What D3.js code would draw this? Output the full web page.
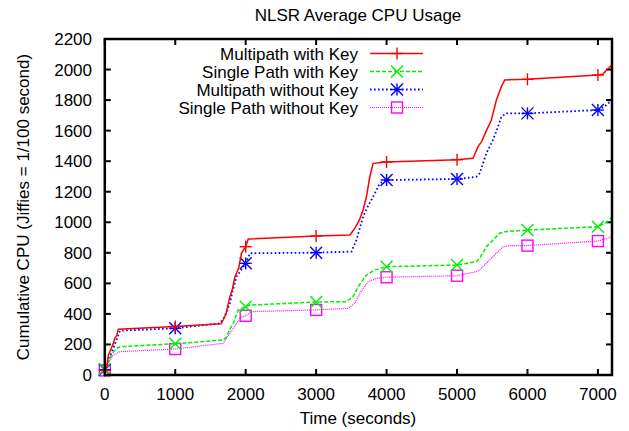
<!DOCTYPE html>
<html>
<head>
<meta charset="utf-8">
<script src="https://cdn.jsdelivr.net/npm/d3@7"></script>
<style>
  body { margin: 0; background: #fff; }
  text { font-family: "Liberation Sans", Arial, sans-serif; }
</style>
</head>
<body>
<div id="chart"></div>
<script>
// data
var yTicks = [0, 200, 400, 600, 800, 1000, 1200, 1400, 1600, 1800, 2000, 2200]
var xTicks = [0, 1000, 2000, 3000, 4000, 5000, 6000, 7000]

var mkTime = [0, 30, 50, 80, 121, 145, 170, 192, 1000, 1650, 1680, 1720, 1775, 1810, 1846, 1900, 1941, 2000, 2036, 3000, 3480, 3550, 3610, 3667, 3714, 3762, 3809, 4000, 5000, 5227, 5298, 5350, 5417, 5488, 5559, 5630, 5677, 6000, 7000, 7071, 7130, 7200]
var mkCpu  = [30, 60, 130, 160, 207, 242, 260, 300, 318, 335, 360, 400, 511, 560, 641, 700, 798, 840, 890, 910, 917, 962, 1010, 1080, 1167, 1298, 1386, 1395, 1410, 1419, 1495, 1530, 1600, 1670, 1801, 1888, 1932, 1936, 1964, 1970, 2000, 2030]

var spkTime = [0, 30, 70, 120, 168, 216, 1000, 1681, 1729, 1776, 1823, 1894, 2000, 2060, 3000, 3431, 3525, 3596, 3714, 3832, 4000, 5000, 5275, 5330, 5417, 5511, 5606, 5677, 6000, 7000, 7142, 7200]
var spkCpu  = [40, 70, 110, 150, 175, 185, 205, 229, 251, 300, 339, 426, 447, 458, 478, 480, 513, 578, 655, 688, 709, 720, 742, 770, 840, 884, 928, 938, 949, 971, 1004, 1037]

var mnkTime = [0, 30, 60, 100, 150, 216, 1000, 1634, 1700, 1776, 1820, 1870, 2000, 2060, 3000, 3502, 3572, 3667, 3740, 3809, 3904, 4000, 5000, 5275, 5322, 5417, 5511, 5582, 5630, 5700, 6000, 7000, 7100, 7200]
var mnkCpu  = [35, 60, 110, 150, 210, 290, 306, 338, 380, 470, 560, 644, 731, 797, 801, 808, 884, 1037, 1110, 1167, 1255, 1277, 1283, 1298, 1321, 1452, 1539, 1626, 1691, 1713, 1713, 1735, 1760, 1800]

var snkTime = [0, 30, 70, 120, 216, 1000, 1681, 1776, 1870, 1941, 2000, 2083, 3000, 3454, 3549, 3620, 3738, 3856, 4000, 5000, 5275, 5322, 5464, 5559, 5653, 5748, 6000, 7000, 7200]
var snkCpu  = [30, 55, 95, 130, 153, 170, 208, 273, 339, 380, 388, 415, 426, 437, 469, 535, 611, 633, 640, 650, 677, 690, 753, 797, 840, 847, 847, 877, 906]

var seriesNames = ["Multipath with Key", "Single Path with Key", "Multipath without Key", "Single Path without Key"]

var series = [
  { name: seriesNames[0], t: mkTime,  v: mkCpu,  color: "#ff0000", dash: null,      width: 1.5, mark: "plus" },
  { name: seriesNames[1], t: spkTime, v: spkCpu, color: "#00ee00", dash: "4,2",     width: 1.5, mark: "cross" },
  { name: seriesNames[2], t: mnkTime, v: mnkCpu, color: "#0000ff", dash: "1.6,2.4", width: 1.8, mark: "star" },
  { name: seriesNames[3], t: snkTime, v: snkCpu, color: "#ff00ff", dash: "1,1",     width: 1.2, mark: "square" }
]

var width = 629,
    height = 431,
    pLeft = 104.8, pRight = 612,
    pTop = 39, pBottom = 375,
    fs = "17px"

var svg = d3.select("#chart")
  .append("svg")
    .attr("width", width)
    .attr("height", height)

var x = d3.scaleLinear().domain([0, 7200]).range([pLeft, pRight])
var y = d3.scaleLinear().domain([0, 2200]).range([pBottom, pTop])

// ticks, mirrored on all four sides, pointing inward
var tickLen = 6
var grid = svg.append("g").attr("stroke", "#000").attr("stroke-width", 2)
xTicks.forEach(function(t) {
  grid.append("line").attr("x1", x(t)).attr("x2", x(t)).attr("y1", pBottom).attr("y2", pBottom - tickLen)
  grid.append("line").attr("x1", x(t)).attr("x2", x(t)).attr("y1", pTop).attr("y2", pTop + tickLen)
})
yTicks.forEach(function(v) {
  grid.append("line").attr("x1", pLeft).attr("x2", pLeft + tickLen).attr("y1", y(v)).attr("y2", y(v))
  grid.append("line").attr("x1", pRight).attr("x2", pRight - tickLen).attr("y1", y(v)).attr("y2", y(v))
})

svg.selectAll(".xl")
  .data(xTicks)
  .enter()
  .append("text")
    .attr("x", function(d) { return x(d) })
    .attr("y", 400)
    .attr("text-anchor", "middle")
    .style("font-size", fs)
    .text(function(d) { return d })

svg.selectAll(".yl")
  .data(yTicks)
  .enter()
  .append("text")
    .attr("x", 92)
    .attr("y", function(d) { return y(d) + 6 })
    .attr("text-anchor", "end")
    .style("font-size", fs)
    .text(function(d) { return d })

svg.append("text")
  .attr("x", 358).attr("y", 21)
  .attr("text-anchor", "middle")
  .style("font-size", fs)
  .text("NLSR Average CPU Usage")

svg.append("text")
  .attr("x", 358).attr("y", 424)
  .attr("text-anchor", "middle")
  .style("font-size", fs)
  .text("Time (seconds)")

svg.append("text")
  .attr("transform", "translate(29,207) rotate(-90)")
  .attr("text-anchor", "middle")
  .style("font-size", fs)
  .text("Cumulative CPU (Jiffies = 1/100 second)")

function drawMark(g, kind, cx, cy, color) {
  var s = 6
  var m = g.append("g").attr("stroke", color).attr("stroke-width", 1.4).attr("fill", "none")
  if (kind == "plus" || kind == "star") {
    m.append("line").attr("x1", cx - s).attr("x2", cx + s).attr("y1", cy).attr("y2", cy)
    m.append("line").attr("x1", cx).attr("x2", cx).attr("y1", cy - s).attr("y2", cy + s)
  }
  if (kind == "cross" || kind == "star") {
    m.append("line").attr("x1", cx - s).attr("x2", cx + s).attr("y1", cy - s).attr("y2", cy + s)
    m.append("line").attr("x1", cx - s).attr("x2", cx + s).attr("y1", cy + s).attr("y2", cy - s)
  }
  if (kind == "square") {
    m.append("rect").attr("x", cx - 5.5).attr("y", cy - 5.5).attr("width", 11).attr("height", 11)
  }
}

var line = d3.line()
  .x(function(d) { return x(d[0]) })
  .y(function(d) { return y(d[1]) })

// draw in reverse so red ends up on top
series.slice().reverse().forEach(function(s) {
  var pts = s.t.map(function(t, i) { return [t, s.v[i]] })
  svg.append("path")
    .datum(pts)
    .attr("d", line)
    .attr("fill", "none")
    .attr("stroke", s.color)
    .attr("stroke-width", s.width)
    .attr("stroke-dasharray", s.dash)
  var g = svg.append("g")
  pts.filter(function(p) { return p[0] % 1000 == 0 }).forEach(function(p) {
    drawMark(g, s.mark, x(p[0]), y(p[1]), s.color)
  })
})

// legend
var leg = svg.append("g")
series.forEach(function(s, i) {
  var ly = 53.5 + i * 18
  leg.append("text")
    .attr("x", 358).attr("y", ly + 6)
    .attr("text-anchor", "end")
    .style("font-size", fs)
    .text(s.name)
  leg.append("line")
    .attr("x1", 370).attr("x2", 423).attr("y1", ly).attr("y2", ly)
    .attr("stroke", s.color)
    .attr("stroke-width", s.width)
    .attr("stroke-dasharray", s.dash)
  drawMark(leg, s.mark, 397, ly, s.color)
})

// frame
svg.append("rect")
  .attr("x", pLeft).attr("y", pTop)
  .attr("width", pRight - pLeft).attr("height", pBottom - pTop)
  .attr("fill", "none")
  .attr("stroke", "#000")
  .attr("stroke-width", 2.5)
</script>
</body>
</html>
